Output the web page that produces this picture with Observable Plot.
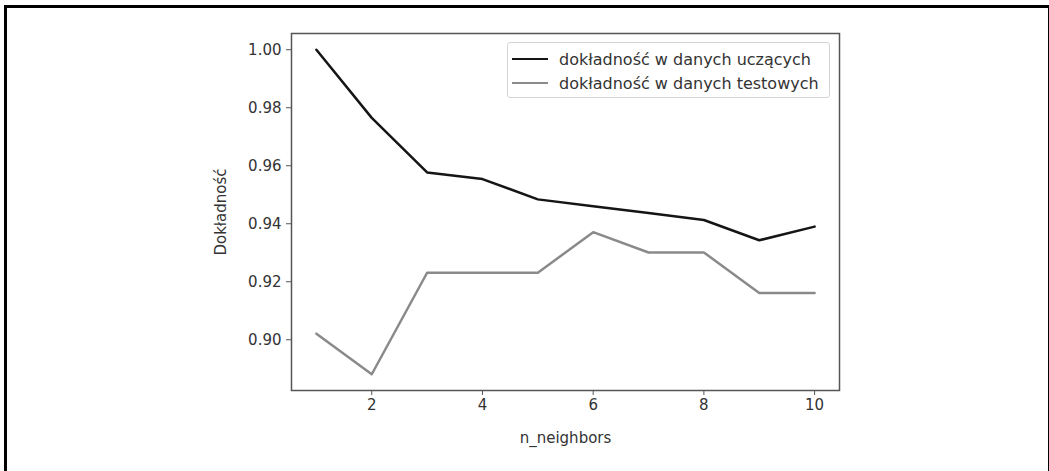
<!DOCTYPE html>
<html>
<head>
<meta charset="utf-8">
<script src="https://cdn.jsdelivr.net/npm/d3@7"></script>
<script src="https://cdn.jsdelivr.net/npm/@observablehq/plot@0.6"></script>
<style>
  html, body { margin: 0; padding: 0; background: #fff; }
  #wrap { position: relative; width: 1049px; height: 471px; overflow: hidden; font-family: "DejaVu Sans", sans-serif; }
  #border { position: absolute; left: 4px; top: 5px; width: 1041px; height: 600px; border: 3px solid #000; box-sizing: content-box; }
  #chart { position: absolute; left: 0; top: 0; }
  #legend { position: absolute; left: 507px; top: 42px; width: 321px; height: 54px; border: 1px solid #d4d4d4; border-radius: 3px; background: rgba(255,255,255,0.85); font-size: 16px; color: #333; }
  .row { position: absolute; left: 0; height: 24px; display: flex; align-items: center; }
  .sw { width: 36px; height: 0; border-top: 2.5px solid; margin-left: 4px; margin-right: 11px; }
</style>
</head>
<body>
<div id="wrap">
  <div id="border"></div>
  <div id="chart"></div>
  <div id="legend"></div>
</div>
<script>
const neighbors = [1, 2, 3, 4, 5, 6, 7, 8, 9, 10];
const trainAccuracy = [1.000, 0.9765, 0.9577, 0.9554, 0.9484, 0.9460, 0.9437, 0.9413, 0.9343, 0.9390];
const testAccuracy = [0.9021, 0.8881, 0.9231, 0.9231, 0.9231, 0.9371, 0.9301, 0.9301, 0.9161, 0.9161];
const seriesNames = ["dokładność w danych uczących", "dokładność w danych testowych"];
const seriesColors = ["#151515", "#8a8a8a"];
const xTicks = [2, 4, 6, 8, 10];
const yTicks = [0.90, 0.92, 0.94, 0.96, 0.98, 1.00];
const xLabel = "n_neighbors";
const yLabel = "Dokładność";

const trainData = neighbors.map((k, i) => ({k, acc: trainAccuracy[i]}));
const testData = neighbors.map((k, i) => ({k, acc: testAccuracy[i]}));

// matplotlib-style 5% margins
function pad(ext) { const d = (ext[1] - ext[0]) * 0.05; return [ext[0] - d, ext[1] + d]; }
const xDom = pad(d3.extent(neighbors));
const yDom = pad(d3.extent(trainAccuracy.concat(testAccuracy)));

const chart = Plot.plot({
  width: 1049,
  height: 471,
  marginLeft: 291,
  marginRight: 210,
  marginTop: 33,
  marginBottom: 81,
  style: { fontFamily: "DejaVu Sans, sans-serif", fontSize: "15px", color: "#333", background: "transparent" },
  x: { domain: xDom },
  y: { domain: yDom },
  marks: [
    Plot.line(trainData, { x: "k", y: "acc", stroke: seriesColors[0], strokeWidth: 2.5 }),
    Plot.line(testData, { x: "k", y: "acc", stroke: seriesColors[1], strokeWidth: 2.5 }),
    Plot.frame({ stroke: "#555", strokeWidth: 1.5 }),
    Plot.axisX({ ticks: xTicks, tickSize: 5, tickPadding: 4, stroke: "#555", label: xLabel, labelAnchor: "center", labelArrow: "none", labelOffset: 52, fontSize: 15 }),
    Plot.axisY({ ticks: yTicks, tickFormat: d3.format(".2f"), tickSize: 5, tickPadding: 5, stroke: "#555", label: yLabel, labelAnchor: "center", labelArrow: "none", labelOffset: 76, fontSize: 15 })
  ]
});
document.getElementById("chart").appendChild(chart);

const legend = document.getElementById("legend");
seriesNames.forEach((name, i) => {
  const row = document.createElement("div");
  row.className = "row";
  row.style.top = (4 + i * 24) + "px";
  const sw = document.createElement("span");
  sw.className = "sw";
  sw.style.borderTopColor = seriesColors[i];
  const t = document.createElement("span");
  t.textContent = name;
  row.appendChild(sw);
  row.appendChild(t);
  legend.appendChild(row);
});
</script>
</body>
</html>
